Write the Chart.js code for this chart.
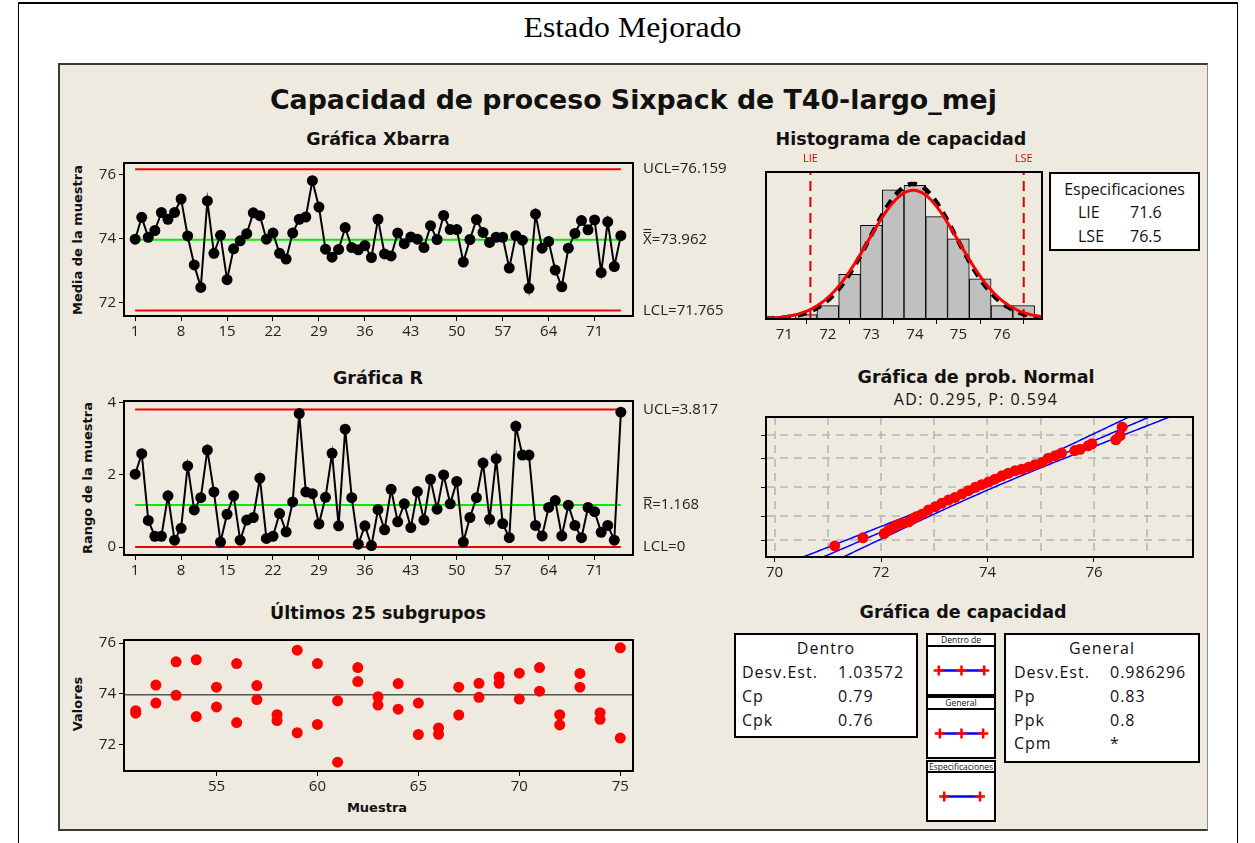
<!DOCTYPE html>
<html lang="es">
<head>
<meta charset="utf-8">
<title>Capacidad de proceso Sixpack de T40-largo_mej</title>
<script src="https://cdn.jsdelivr.net/npm/chart.js@4.4.1/dist/chart.umd.min.js"></script>
<style>
  html,body{margin:0;padding:0;background:#fff;}
  #page{position:relative;width:1255px;height:843px;overflow:hidden;background:#fff;font-family:"Open Sans","DejaVu Sans",sans-serif;color:#111;}
  #page div, #page canvas{position:absolute;}
  .marco{left:18px;top:2px;width:1220px;height:870px;border:1px solid #000;border-top-width:2px;box-sizing:border-box;}
  .panel{left:58px;top:63px;width:1150px;height:768px;background:#EEEAE0;box-sizing:border-box;border:2px solid #3a3a3a;border-right:1px solid #8a8a8a;}
  .t{white-space:nowrap;text-align:center;}
  .sub{font-family:"DejaVu Sans",sans-serif;font-weight:bold;font-size:17.5px;color:#111;}
  .eje{font-family:"DejaVu Sans",sans-serif;font-weight:bold;font-size:13px;color:#111;}
  .caja{background:#fff;border:2px solid #000;box-sizing:border-box;}
  .est{font-size:16px;letter-spacing:1px;white-space:nowrap;line-height:20px;height:20px;}
  .mini{font-size:8.5px;text-align:center;line-height:10px;white-space:nowrap;}
</style>
</head>
<body>
<div id="page">
  <div class="marco"></div>
  <div class="panel"></div>
</div>
<script>
// ---------------- Datos del proceso ----------------
const MEDIA = 73.962;
const DESV_DENTRO = 1.03572;
const DESV_GENERAL = 0.986296;
const N_TOTAL = 150;
const LIE = 71.6;
const LSE = 76.5;
const XBAR_UCL = 76.159, XBAR_LCL = 71.765;
const R_UCL = 3.817, R_MEDIA = 1.168, R_LCL = 0;

// Medias de los 75 subgrupos
const mediasMuestra = [
  73.98, 74.66, 74.04, 74.25, 74.81, 74.60, 74.81, 75.23, 74.08, 73.18,
  72.48, 75.17, 73.54, 74.10, 72.72, 73.68, 73.93, 74.15, 74.80, 74.71,
  73.98, 74.17, 73.54, 73.36, 74.17, 74.60, 74.67, 75.80, 74.98, 73.67,
  73.42, 73.66, 74.34, 73.72, 73.65, 73.78, 73.41, 74.60, 73.52, 73.46,
  74.17, 73.84, 74.05, 73.98, 73.72, 74.40, 73.97, 74.72, 74.28, 74.28,
  73.27, 73.97, 74.59, 74.19, 73.88, 74.04, 74.04, 73.08, 74.09, 73.95,
  72.45, 74.76, 73.70, 73.91, 73.02, 72.50, 73.70, 74.16, 74.56, 74.27,
  74.58, 72.94, 74.52, 73.13, 74.09
];

// Rangos de los 75 subgrupos
const rangosMuestra = [
  2.02, 2.59, 0.74, 0.30, 0.30, 1.42, 0.19, 0.52, 2.25, 1.03,
  1.37, 2.69, 1.53, 0.14, 0.91, 1.42, 0.19, 0.75, 0.82, 1.91,
  0.24, 0.30, 0.93, 0.42, 1.25, 3.70, 1.53, 1.48, 0.64, 1.38,
  2.60, 0.59, 3.27, 1.37, 0.08, 0.59, 0.04, 1.04, 0.48, 1.60,
  0.70, 1.20, 0.54, 1.54, 0.75, 1.88, 1.05, 2.00, 1.20, 1.82,
  0.14, 0.82, 1.37, 2.33, 0.77, 2.45, 0.65, 0.26, 3.35, 2.55,
  2.55, 0.60, 0.31, 1.10, 1.29, 0.31, 1.16, 0.60, 0.26, 1.10,
  0.98, 0.41, 0.60, 0.19, 3.74
];

// Observaciones individuales de los últimos 25 subgrupos (n = 2)
const ultimosSubgrupos = [51,52,53,54,55,56,57,58,59,60,61,62,63,64,65,66,67,68,69,70,71,72,73,74,75];
const ultimosValores = [
  [73.33, 73.23], [74.34, 73.63], [75.26, 73.94], [75.34, 73.10], [74.26, 73.48],
  [75.19, 72.86], [74.32, 73.77], [73.17, 72.94], [75.72, 72.46], [75.19, 72.79],
  [73.72, 71.30], [75.03, 74.48], [73.88, 73.55], [74.40, 73.39], [73.63, 72.39],
  [72.65, 72.40], [74.26, 73.16], [74.41, 73.86], [74.66, 74.41], [74.81, 73.79],
  [75.03, 74.10], [73.17, 72.77], [74.80, 74.26], [73.25, 72.99], [75.81, 72.25]
];

// Histograma de capacidad (clases de 0.5)
const ANCHO_CLASE = 0.5;
const histCentros = [71.5, 72.0, 72.5, 73.0, 73.5, 74.0, 74.5, 75.0, 75.5, 76.0, 76.5];
const histConteos = [1, 3, 10, 21, 29, 30, 23, 18, 9, 3, 3];

// Gráfica de probabilidad normal: valor observado y puntuación normal
const probValores = [71.13, 71.66, 72.06, 72.14, 72.22, 72.29, 72.39, 72.52, 72.59, 72.66,
  72.77, 72.89, 73.02, 73.14, 73.27, 73.39, 73.52, 73.64, 73.77, 73.89,
  74.02, 74.14, 74.27, 74.39, 74.52, 74.64, 74.77, 74.89, 75.02, 75.14,
  75.27, 75.39, 75.64, 75.74, 75.89, 75.96, 76.41, 76.49, 76.53];
const probPuntuaciones = [-2.60, -2.24, -2.05, -1.90, -1.80, -1.68, -1.60, -1.53, -1.40, -1.31,
  -1.19, -1.01, -0.86, -0.71, -0.56, -0.45, -0.30, -0.15, 0.00, 0.12,
  0.24, 0.36, 0.51, 0.62, 0.74, 0.80, 0.89, 1.00, 1.10, 1.29,
  1.40, 1.52, 1.63, 1.69, 1.84, 1.93, 2.11, 2.29, 2.67];
const probRejillaZ = [-2.326, -1.282, 0, 1.282, 2.326];   // 1, 10, 50, 90, 99 %

// Marcas de los ejes
const ticksMuestra = [1, 8, 15, 22, 29, 36, 43, 50, 57, 64, 71];
const ticksMedia = [72, 74, 76];
const ticksRango = [0, 2, 4];
const ticksUltimosX = [55, 60, 65, 70, 75];
const ticksUltimosY = [72, 74, 76];
const ticksHist = [71, 72, 73, 74, 75, 76];
const ticksProb = [70, 72, 74, 76];
const rejillaProbX = [70, 71, 72, 73, 74, 75, 76, 77];

// ---------------- Utilidades ----------------
const page = document.getElementById('page');
const FUENTE = '"Open Sans", "DejaVu Sans", sans-serif';

function el(cls, css, text, parent) {
  const d = document.createElement('div');
  if (cls) d.className = cls;
  Object.keys(css).forEach(k => d.style[k] = (typeof css[k] === 'number') ? css[k] + 'px' : css[k]);
  if (text !== undefined) d.textContent = text;
  (parent || page).appendChild(d);
  return d;
}
function texto(str, cx, cy, cls, extra) {
  return el('t ' + (cls || ''), Object.assign({left: cx - 300, top: cy - 12, width: 600, height: 24, lineHeight: '24px'}, extra || {}), str);
}
function textoVertical(str, cx, cy, cls) {
  return el('t ' + cls, {left: cx - 150, top: cy - 10, width: 300, height: 20, lineHeight: '20px', transform: 'rotate(-90deg)'}, str);
}

const marcoPlugin = {
  id: 'marco',
  afterDatasetsDraw(chart) {
    const {ctx, chartArea: a} = chart;
    ctx.save();
    ctx.strokeStyle = '#000';
    ctx.lineWidth = 2;
    ctx.strokeRect(a.left, a.top, a.right - a.left, a.bottom - a.top);
    ctx.restore();
  }
};

function ejeX(min, max, ticks, alto) {
  return {
    type: 'linear', min, max, offset: false,
    afterBuildTicks: s => { s.ticks = ticks.map(v => ({value: v})); },
    afterFit: s => { s.height = alto; },
    grid: {drawOnChartArea: false, drawTicks: true, tickLength: 5, color: '#000', lineWidth: 1},
    border: {display: false},
    ticks: {padding: 2, color: '#222', font: {family: FUENTE, size: 15}, maxRotation: 0, autoSkip: false}
  };
}
// Un eje Y oculto conserva su ancho reservado, sin marcas ni etiquetas
function ejeY(min, max, ticks, ancho, mostrar) {
  const visible = mostrar !== false;
  return {
    type: 'linear', min, max,
    afterBuildTicks: s => { s.ticks = ticks.map(v => ({value: v})); },
    afterFit: s => { s.width = ancho; },
    grid: {display: visible, drawOnChartArea: false, drawTicks: true, tickLength: 5, color: '#000', lineWidth: 1},
    border: {display: false},
    ticks: {display: visible, padding: 3, color: '#222', font: {family: FUENTE, size: 15}, autoSkip: false}
  };
}

// caja = posición del lienzo; area = rectángulo de trazado deseado (coordenadas de página)
function grafico(caja, area, tipo, datasets, escalas, plugins) {
  const c = document.createElement('canvas');
  c.width = caja.w; c.height = caja.h;
  Object.assign(c.style, {left: caja.l + 'px', top: caja.t + 'px', width: caja.w + 'px', height: caja.h + 'px'});
  page.appendChild(c);
  const anchoY = area.l - caja.l;
  const altoX = caja.t + caja.h - area.b;
  return new Chart(c, {
    type: tipo,
    data: {datasets},
    options: {
      responsive: false, animation: false, devicePixelRatio: 1,
      layout: {padding: {top: area.t - caja.t, right: caja.l + caja.w - area.r, left: 0, bottom: 0}},
      plugins: {legend: {display: false}, tooltip: {enabled: false}, title: {display: false}},
      scales: {x: escalas.x(altoX), y: escalas.y(anchoY)},
      elements: {line: {tension: 0}}
    },
    plugins: [marcoPlugin].concat(plugins || [])
  });
}

function lineaH(x0, x1, v, color, ancho) {
  return {data: [{x: x0, y: v}, {x: x1, y: v}], showLine: true, borderColor: color, borderWidth: ancho || 2, pointRadius: 0};
}

// Etiquetas de límites de control a la derecha del gráfico
function etiquetasLimites(items) {
  return {
    id: 'limites',
    afterDraw(chart) {
      const {ctx, chartArea: a, scales: {y}} = chart;
      ctx.save();
      ctx.font = '15px ' + FUENTE;
      ctx.fillStyle = '#222';
      ctx.strokeStyle = '#222';
      ctx.textBaseline = 'middle';
      ctx.textAlign = 'left';
      items.forEach(it => {
        const py = y.getPixelForValue(it.valor);
        let px = a.right + 10;
        if (it.simbolo) {
          ctx.fillText(it.simbolo, px, py);
          const w = ctx.measureText(it.simbolo).width;
          ctx.lineWidth = 1;
          for (let k = 0; k < it.barras; k++) {
            const by = Math.round(py - 8 - 3 * k) + 0.5;
            ctx.beginPath(); ctx.moveTo(px + 0.5, by); ctx.lineTo(px + w - 0.5, by); ctx.stroke();
          }
          px += w;
        }
        ctx.fillText(it.texto, px, py);
      });
      ctx.restore();
    }
  };
}

// ---------------- Títulos ----------------
const tituloPagina = el('t', {left: 5, width: 1255, top: 9, height: 36, lineHeight: '36px',
  fontFamily: '"Liberation Serif","Times New Roman",serif', fontSize: '30px', color: '#000'}, 'Estado Mejorado');
const titulo = el('t', {left: 6, width: 1255, top: 80, height: 40, lineHeight: '40px'});
const spanTitulo = document.createElement('span');
spanTitulo.textContent = 'Capacidad de proceso Sixpack de T40-largo_mej';
spanTitulo.style.cssText = 'display:inline-block;font-family:"DejaVu Sans",sans-serif;font-weight:bold;font-size:27px;color:#111;transform-origin:50% 50%;';
titulo.appendChild(spanTitulo);
(function ajustarTitulos() {
  const cx = document.createElement('canvas').getContext('2d');
  cx.font = 'bold 27px "DejaVu Sans"';
  const w = cx.measureText(spanTitulo.textContent).width;
  spanTitulo.style.transform = 'scaleX(' + (727 / w).toFixed(4) + ')';
  cx.font = '30px "Liberation Serif"';
  const w2 = cx.measureText('Estado Mejorado').width;
  tituloPagina.style.transform = 'scaleX(' + (218 / w2).toFixed(4) + ')';
})();

texto('Gráfica Xbarra', 378, 139, 'sub');
texto('Histograma de capacidad', 901, 139, 'sub');
texto('Gráfica R', 378, 378, 'sub');
texto('Gráfica de prob. Normal', 976, 377, 'sub');
texto('AD: 0.295, P: 0.594', 976, 399, '', {fontSize: '16px', letterSpacing: '1.4px'});
texto('Últimos 25 subgrupos', 378, 613, 'sub');
texto('Gráfica de capacidad', 963, 612, 'sub');
texto('Muestra', 377, 808, 'eje');
textoVertical('Media de la muestra', 78, 240, 'eje');
textoVertical('Rango de la muestra', 88, 478, 'eje');
textoVertical('Valores', 78, 704, 'eje');

// ---------------- Gráfica Xbarra ----------------
const nMuestras = mediasMuestra.length;
grafico({l: 64, t: 150, w: 680, h: 195}, {l: 124, t: 163, r: 633, b: 316}, 'scatter', [
  {data: mediasMuestra.map((v, i) => ({x: i + 1, y: v})), showLine: true, borderColor: '#000', borderWidth: 2,
   pointRadius: 5.5, pointBackgroundColor: '#000', pointBorderWidth: 0},
  lineaH(1, nMuestras, MEDIA, '#00EE00'),
  lineaH(1, nMuestras, XBAR_UCL, '#EE0000'),
  lineaH(1, nMuestras, XBAR_LCL, '#EE0000')
], {
  x: h => ejeX(-0.7, 76.85, ticksMuestra, h),
  y: w => ejeY(71.59, 76.35, ticksMedia, w)
}, [etiquetasLimites([
  {valor: XBAR_UCL, texto: 'UCL=76.159'},
  {valor: MEDIA, simbolo: 'X', barras: 2, texto: '=73.962'},
  {valor: XBAR_LCL, texto: 'LCL=71.765'}
])]);

// ---------------- Gráfica R ----------------
grafico({l: 64, t: 388, w: 680, h: 192}, {l: 124, t: 401, r: 633, b: 555}, 'scatter', [
  {data: rangosMuestra.map((v, i) => ({x: i + 1, y: v})), showLine: true, borderColor: '#000', borderWidth: 2,
   pointRadius: 5.5, pointBackgroundColor: '#000', pointBorderWidth: 0},
  lineaH(1, nMuestras, R_MEDIA, '#00EE00'),
  lineaH(1, nMuestras, R_UCL, '#EE0000'),
  lineaH(1, nMuestras, R_LCL, '#EE0000')
], {
  x: h => ejeX(-0.7, 76.85, ticksMuestra, h),
  y: w => ejeY(-0.22, 4.05, ticksRango, w)
}, [etiquetasLimites([
  {valor: R_UCL, texto: 'UCL=3.817'},
  {valor: R_MEDIA, simbolo: 'R', barras: 1, texto: '=1.168'},
  {valor: R_LCL, texto: 'LCL=0'}
])]);

// ---------------- Últimos 25 subgrupos ----------------
const ULT_XMIN = 50.42, ULT_XMAX = 75.63;
const puntosUltimos = [];
ultimosSubgrupos.forEach((s, i) => ultimosValores[i].forEach(v => puntosUltimos.push({x: s, y: v})));
grafico({l: 64, t: 628, w: 600, h: 172}, {l: 124, t: 638, r: 633, b: 771}, 'scatter', [
  {data: puntosUltimos, pointRadius: 5.5, pointBackgroundColor: '#FF0000', pointBorderWidth: 0},
  lineaH(ULT_XMIN, ULT_XMAX, MEDIA, '#555', 1.5)
], {
  x: h => ejeX(ULT_XMIN, ULT_XMAX, ticksUltimosX, h),
  y: w => ejeY(70.95, 76.12, ticksUltimosY, w)
});

// ---------------- Histograma de capacidad ----------------
const HIST_XMIN = 70.58, HIST_XMAX = 76.92, HIST_YMAX = 33;
function curvaNormal(desv) {
  const pts = [];
  for (let k = 0; k <= 160; k++) {
    const x = HIST_XMIN + (HIST_XMAX - HIST_XMIN) * k / 160;
    const z = (x - MEDIA) / desv;
    pts.push({x, y: N_TOTAL * ANCHO_CLASE * Math.exp(-0.5 * z * z) / (desv * Math.sqrt(2 * Math.PI))});
  }
  return pts;
}
const etiquetasEspec = {
  id: 'espec',
  afterDraw(chart) {
    const {ctx, chartArea: a, scales: {x}} = chart;
    ctx.save();
    ctx.font = '11px ' + FUENTE;
    ctx.fillStyle = '#E00000';
    ctx.textAlign = 'center';
    ctx.textBaseline = 'middle';
    ctx.fillText('LIE', x.getPixelForValue(LIE), a.top - 13);
    ctx.fillText('LSE', x.getPixelForValue(LSE), a.top - 13);
    ctx.restore();
  }
};
grafico({l: 756, t: 145, w: 296, h: 200}, {l: 766, t: 172, r: 1042, b: 319}, 'bar', [
  {type: 'line', data: curvaNormal(DESV_DENTRO), borderColor: '#FF0000', borderWidth: 3, pointRadius: 0},
  {type: 'line', data: curvaNormal(DESV_GENERAL), borderColor: '#000', borderWidth: 4.5, borderDash: [9, 7], pointRadius: 0},
  {type: 'line', data: [{x: LIE, y: 0}, {x: LIE, y: HIST_YMAX}], borderColor: '#E00000', borderWidth: 2, borderDash: [10, 6], pointRadius: 0},
  {type: 'line', data: [{x: LSE, y: 0}, {x: LSE, y: HIST_YMAX}], borderColor: '#E00000', borderWidth: 2, borderDash: [10, 6], pointRadius: 0},
  {type: 'bar', data: histCentros.map((c, i) => ({x: c, y: histConteos[i]})), backgroundColor: '#C0C0C0',
   borderColor: '#000', borderWidth: 1, barPercentage: 1, categoryPercentage: 1, grouped: false}
], {
  x: h => ejeX(HIST_XMIN, HIST_XMAX, ticksHist, h),
  y: w => ejeY(0, HIST_YMAX, [], w, false)
}, [etiquetasEspec]);

// Caja de especificaciones
const cajaEsp = el('caja', {left: 1049, top: 172, width: 151, height: 79});
el('t', {left: 0, width: 147, top: 5, height: 20, lineHeight: '20px', fontSize: '16px'}, 'Especificaciones', cajaEsp);
el('', {left: 27, top: 28, height: 20, lineHeight: '20px', fontSize: '16px'}, 'LIE', cajaEsp);
el('', {left: 79, top: 28, height: 20, lineHeight: '20px', fontSize: '16px'}, String(LIE), cajaEsp);
el('', {left: 27, top: 52, height: 20, lineHeight: '20px', fontSize: '16px'}, 'LSE', cajaEsp);
el('', {left: 79, top: 52, height: 20, lineHeight: '20px', fontSize: '16px'}, String(LSE), cajaEsp);

// ---------------- Gráfica de probabilidad normal ----------------
const PROB_XMIN = 69.84, PROB_XMAX = 77.86, PROB_ZMIN = -3.09, PROB_ZMAX = 3.12;
function rectaProb(signo) {
  const pts = [];
  for (let k = 0; k <= 130; k++) {
    const z = -3.3 + 6.6 * k / 130;
    const centro = MEDIA + z * DESV_GENERAL;
    const semi = 1.96 * DESV_GENERAL * Math.sqrt((1 + z * z / 2) / N_TOTAL);
    pts.push({x: centro + signo * semi, y: z});
  }
  return pts;
}
const rejillaProb = {
  id: 'rejilla',
  beforeDatasetsDraw(chart) {
    const {ctx, chartArea: a, scales: {x, y}} = chart;
    ctx.save();
    ctx.strokeStyle = '#B4B4B4';
    ctx.lineWidth = 1.5;
    ctx.setLineDash([8, 6]);
    rejillaProbX.forEach(v => {
      const px = Math.round(x.getPixelForValue(v));
      ctx.beginPath(); ctx.moveTo(px, a.top); ctx.lineTo(px, a.bottom); ctx.stroke();
    });
    probRejillaZ.forEach(z => {
      const py = Math.round(y.getPixelForValue(z));
      ctx.beginPath(); ctx.moveTo(a.left, py); ctx.lineTo(a.right, py); ctx.stroke();
    });
    ctx.setLineDash([]);
    ctx.strokeStyle = '#000';
    ctx.lineWidth = 1;
    probRejillaZ.forEach(z => {
      const py = Math.round(y.getPixelForValue(z)) + 0.5;
      ctx.beginPath(); ctx.moveTo(a.left - 5, py); ctx.lineTo(a.left, py); ctx.stroke();
    });
    ctx.restore();
  }
};
grafico({l: 756, t: 410, w: 446, h: 175}, {l: 766, t: 417, r: 1193, b: 557}, 'scatter', [
  {data: probValores.map((v, i) => ({x: v, y: probPuntuaciones[i]})), pointRadius: 5.5, pointBackgroundColor: '#FF0000', pointBorderWidth: 0},
  {data: rectaProb(0), showLine: true, borderColor: '#0000FF', borderWidth: 1.5, pointRadius: 0},
  {data: rectaProb(-1), showLine: true, borderColor: '#0000FF', borderWidth: 1.5, pointRadius: 0},
  {data: rectaProb(1), showLine: true, borderColor: '#0000FF', borderWidth: 1.5, pointRadius: 0}
], {
  x: h => ejeX(PROB_XMIN, PROB_XMAX, ticksProb, h),
  y: w => ejeY(PROB_ZMIN, PROB_ZMAX, [], w, false)
}, [rejillaProb]);

// ---------------- Gráfica de capacidad ----------------
function cajaEstadisticos(titulo, filas, l, t, w, h, xEtiqueta, xValor) {
  const b = el('caja', {left: l, top: t, width: w, height: h});
  el('t est', {left: 0, width: w - 4, top: 3}, titulo, b);
  filas.forEach((f, i) => {
    el('est', {left: xEtiqueta, top: 27 + i * 23.8}, f[0], b);
    el('est', {left: xValor, top: 27 + i * 23.8}, f[1], b);
  });
}
cajaEstadisticos('Dentro', [
  ['Desv.Est.', String(DESV_DENTRO)], ['Cp', '0.79'], ['Cpk', '0.76']
], 734, 633, 184, 105, 6, 102);
cajaEstadisticos('General', [
  ['Desv.Est.', String(DESV_GENERAL)], ['Pp', '0.83'], ['Ppk', '0.8'], ['Cpm', '*']
], 1004, 633, 196, 130, 8, 104);

const MINI_XMIN = 70.41, MINI_XMAX = 77.38;
function miniGrafico(encabezado, tCab, hCab, tPlot, hPlot, valores) {
  el('caja mini', {left: 926, top: tCab, width: 70, height: hCab, lineHeight: (hCab - 4) + 'px'}, encabezado);
  el('caja', {left: 926, top: tPlot, width: 70, height: hPlot});
  const c = document.createElement('canvas');
  c.width = 66; c.height = hPlot - 4;
  Object.assign(c.style, {left: '928px', top: (tPlot + 2) + 'px', width: '66px', height: (hPlot - 4) + 'px'});
  page.appendChild(c);
  new Chart(c, {
    type: 'scatter',
    data: {datasets: [{
      data: valores.map(v => ({x: v, y: 0.5})), showLine: true, borderColor: '#0000FF', borderWidth: 2.5,
      pointStyle: 'cross', pointRadius: 5, pointBorderColor: '#FF0000', pointBorderWidth: 2.5, clip: false
    }]},
    options: {
      responsive: false, animation: false, devicePixelRatio: 1,
      layout: {padding: 0},
      plugins: {legend: {display: false}, tooltip: {enabled: false}},
      scales: {
        x: {type: 'linear', min: MINI_XMIN, max: MINI_XMAX, display: false},
        y: {type: 'linear', min: 0, max: 1, display: false}
      }
    }
  });
}
miniGrafico('Dentro de', 633, 14, 645, 51,
  [MEDIA - 3 * DESV_DENTRO, MEDIA, MEDIA + 3 * DESV_DENTRO]);
miniGrafico('General', 696, 14, 708, 51,
  [MEDIA - 3 * DESV_GENERAL, MEDIA, MEDIA + 3 * DESV_GENERAL]);
miniGrafico('Especificaciones', 760, 13, 771, 51, [LIE, LSE]);
</script>
</body>
</html>
